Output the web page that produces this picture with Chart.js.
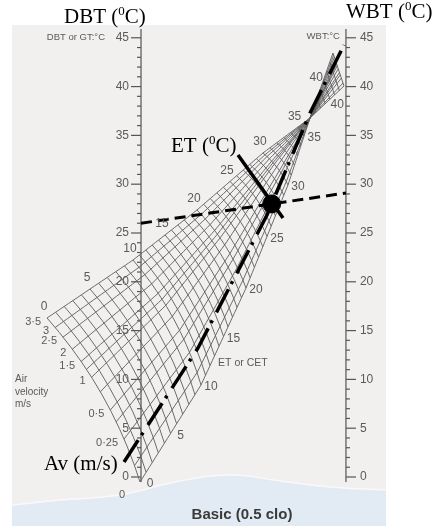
<!DOCTYPE html>
<html>
<head>
<meta charset="utf-8">
<script src="https://cdn.jsdelivr.net/npm/chart.js@4.4.0/dist/chart.umd.min.js"></script>
<style>
  html, body { margin: 0; padding: 0; background: #fff; }
  canvas { display: block; }
</style>
</head>
<body>
<canvas id="etChart" width="445" height="526"></canvas>
<script>
// DBT and WBT scales (deg C), both use the same spacing
const dbtTicks = [0, 5, 10, 15, 20, 25, 30, 35, 40, 45];
const wbtTicks = [0, 5, 10, 15, 20, 25, 30, 35, 40, 45];

// ET grid lines (every 1 deg C) and air velocity lines (m/s)
const etLines = [0,1,2,3,4,5,6,7,8,9,10,11,12,13,14,15,16,17,18,19,20,21,22,23,24,25,26,27,28,29,30,31,32,33,34,35,36];
const velocities = [0, 0.1, 0.25, 0.4, 0.5, 0.75, 1, 1.25, 1.5, 2, 2.5, 3, 3.5];
const velocityLabels = ['0', '', '0·25', '', '0·5', '', '1', '', '1·5', '2', '2·5', '3', '3·5'];
// where each velocity line sits across the fan (0 = still air edge, 1 = 3.5 m/s edge)
const velocityFrac = [0, 0.09, 0.24, 0.34, 0.41, 0.52, 0.61, 0.66, 0.71, 0.79, 0.87, 0.935, 1];

// fan edges: x 0 = DBT scale, 21 = WBT scale, y in deg C
const edgeET = [0, 10, 20, 30, 36.8];
const stillAirX = [-0.1, 6.15, 10.76, 15.06, 17.32];
const stillAirY = [-0.51, 9.43, 19.36, 29.92, 36.78];
const fastAirX = [-9.63, -0.82, 5.74, 12.5, 17.32];
const fastAirY = [16.29, 22.23, 27.36, 33.2, 36.78];

// small part of the chart above the crossing point
const upperET = [37, 38, 39, 40, 41, 42, 43, 44];
const upperLeftTip = [19.67, 43.44];
const upperRightTip = [20.8, 40.06];

// ET numbers printed along the edges
const topEdgeLabels = [0, 5, 10, 15, 20, 25, 30, 35];
const rightEdgeLabels = [0, 5, 10, 15, 20, 25, 30, 35];
const upperLabels = [40];

// worked example
const exampleDBT = 26.0;
const exampleWBT = 29.1;
const avLineX = [-1.74, 5.84, 12.91, 17.32, 20.8];
const avLineY = [1.54, 13.22, 26.84, 37.3, 44.26];
const etMarkX = [9.94, 14.55];
const etMarkY = [32.99, 26.54];

const WBT_X = 21;
const APEX_ET = edgeET[edgeET.length - 1];

function edgeAt(et, xs, ys) {
  let i = 0;
  while (i < edgeET.length - 2 && et > edgeET[i + 1]) i++;
  const t = (et - edgeET[i]) / (edgeET[i + 1] - edgeET[i]);
  return [xs[i] + t * (xs[i + 1] - xs[i]), ys[i] + t * (ys[i + 1] - ys[i])];
}

function fanPoint(et, w) {
  const r = edgeAt(et, stillAirX, stillAirY);
  const f = edgeAt(et, fastAirX, fastAirY);
  const dx = f[0] - r[0], dy = f[1] - r[1];
  const len = Math.hypot(dx, dy) || 1;
  const bulge = 0.053 * len * 4 * w * (1 - w);
  return { x: r[0] + w * dx + bulge * dy / len, y: r[1] + w * dy - bulge * dx / len };
}

function upperPoint(tip, f) {
  const a = edgeAt(APEX_ET, stillAirX, stillAirY);
  return { x: a[0] + f * (tip[0] - a[0]), y: a[1] + f * (tip[1] - a[1]) };
}

const gridStyle = {
  type: 'scatter', showLine: true, pointRadius: 0, borderColor: '#5c5c5c',
  borderWidth: 0.9, fill: false, order: 5
};
const datasets = [];

// background wave at the bottom
datasets.push({
  type: 'line', order: 10, pointRadius: 0, borderWidth: 1.5, borderColor: '#f7f9fc',
  backgroundColor: '#e2eaf4', fill: 'start', tension: 0.4,
  data: [{x:-13.22,y:-2.87},{x:-8.3,y:-2.36},{x:-2.15,y:-1.84},{x:4.0,y:-0.41},{x:9.3,y:0.21},{x:14.24,y:-0.4},{x:19.36,y:-1.02},{x:25.1,y:-1.33}]
});

// ET lines across the fan
etLines.forEach(et => {
  const pts = [];
  for (let k = 0; k <= 10; k++) pts.push(fanPoint(et, k / 10));
  datasets.push(Object.assign({}, gridStyle, { data: pts }));
});
// velocity lines along the fan
velocityFrac.forEach(w => {
  const pts = [];
  for (let et = 0; et < APEX_ET; et += 0.5) pts.push(fanPoint(et, w));
  pts.push(fanPoint(APEX_ET, w));
  datasets.push(Object.assign({}, gridStyle, { data: pts }));
});
// upper part
upperET.forEach(et => {
  const f = (et - APEX_ET) / (upperET[upperET.length - 1] - APEX_ET);
  datasets.push(Object.assign({}, gridStyle, { data: [upperPoint(upperLeftTip, f), upperPoint(upperRightTip, f)] }));
});
velocityFrac.forEach(w => {
  const end = {
    x: upperRightTip[0] + w * (upperLeftTip[0] - upperRightTip[0]),
    y: upperRightTip[1] + w * (upperLeftTip[1] - upperRightTip[1])
  };
  datasets.push(Object.assign({}, gridStyle, { data: [upperPoint(upperRightTip, 0), end] }));
});

// dashed DBT - WBT line
datasets.push({
  type: 'scatter', showLine: true, pointRadius: 0, order: 2, borderColor: '#000',
  borderWidth: 3, borderDash: [11, 6],
  data: [{ x: 0, y: exampleDBT }, { x: WBT_X, y: exampleWBT }]
});
// air velocity line (dash-dot)
datasets.push({
  type: 'scatter', showLine: true, pointRadius: 0, order: 2, borderColor: '#000',
  borderWidth: 3.5, borderDash: [26, 6, 3, 9], borderCapStyle: 'butt',
  data: avLineX.map((x, i) => ({ x, y: avLineY[i] }))
});
// ET reading line
datasets.push({
  type: 'scatter', showLine: true, pointRadius: 0, order: 1, borderColor: '#000',
  borderWidth: 3.5, data: etMarkX.map((x, i) => ({ x, y: etMarkY[i] }))
});

// the dot: where the DBT-WBT line meets the air velocity line
function crossing() {
  const slope = (exampleWBT - exampleDBT) / WBT_X;
  for (let i = 0; i < avLineX.length - 1; i++) {
    const x1 = avLineX[i], y1 = avLineY[i], x2 = avLineX[i + 1], y2 = avLineY[i + 1];
    const g1 = y1 - (exampleDBT + slope * x1), g2 = y2 - (exampleDBT + slope * x2);
    if (g1 * g2 <= 0) {
      const t = g1 / (g1 - g2);
      return { x: x1 + t * (x2 - x1), y: y1 + t * (y2 - y1) };
    }
  }
  return { x: 0, y: exampleDBT };
}
datasets.push({
  type: 'scatter', order: 0, pointRadius: 9, pointBackgroundColor: '#000',
  pointBorderColor: '#000', data: [crossing()]
});

function serifSup(ctx, x, y, before, after) {
  ctx.textAlign = 'left';
  ctx.textBaseline = 'alphabetic';
  ctx.font = '21px "Liberation Serif", "DejaVu Serif", serif';
  ctx.fillText(before, x, y);
  let w = ctx.measureText(before).width;
  ctx.font = '13px "Liberation Serif", "DejaVu Serif", serif';
  ctx.fillText('0', x + w, y - 8);
  w += ctx.measureText('0').width;
  ctx.font = '21px "Liberation Serif", "DejaVu Serif", serif';
  ctx.fillText(after, x + w, y);
}

const nomogramPlugin = {
  id: 'nomogram',
  beforeDraw(chart) {
    const { ctx, scales: { x, y } } = chart;
    ctx.save();
    ctx.fillStyle = '#ffffff';
    ctx.fillRect(0, 0, chart.width, chart.height);
    const left = x.getPixelForValue(-13.22), right = x.getPixelForValue(25.1);
    const top = y.getPixelForValue(46.31);
    ctx.fillStyle = '#f2efef';
    ctx.fillRect(left, top, right - left, chart.height - top);
    ctx.restore();
  },
  beforeDatasetsDraw(chart) {
    const { ctx, scales: { x, y } } = chart;
    ctx.save();
    ctx.strokeStyle = '#555';
    ctx.lineWidth = 1.2;
    [[0, -1], [WBT_X, 1]].forEach(([ax, side]) => {
      const px = x.getPixelForValue(ax);
      ctx.beginPath();
      ctx.moveTo(px, y.getPixelForValue(45.9));
      ctx.lineTo(px, y.getPixelForValue(-0.5));
      ctx.stroke();
      for (let t = 0; t <= 45; t++) {
        const py = y.getPixelForValue(t);
        const len = t % 5 === 0 ? 10 : 4;
        ctx.beginPath();
        ctx.moveTo(px, py);
        ctx.lineTo(px + side * len, py);
        ctx.stroke();
      }
    });
    ctx.restore();
  },
  afterDatasetsDraw(chart) {
    const { ctx, scales: { x, y } } = chart;
    const X = v => x.getPixelForValue(v), Y = v => y.getPixelForValue(v);
    ctx.save();
    ctx.fillStyle = '#5a5a5a';
    ctx.textBaseline = 'middle';
    ctx.font = '12px "Liberation Sans", Arial, sans-serif';

    ctx.textAlign = 'right';
    dbtTicks.forEach(t => ctx.fillText(String(t), X(0) - 12, Y(t)));
    ctx.textAlign = 'left';
    wbtTicks.forEach(t => ctx.fillText(String(t), X(WBT_X) + 14, Y(t)));

    ctx.font = '9.5px "Liberation Sans", Arial, sans-serif';
    ctx.textAlign = 'right';
    ctx.fillText('DBT or GT:°C', X(0) - 36, Y(45));
    ctx.fillText('WBT:°C', X(WBT_X) - 6, Y(45) - 1);

    // ET numbers on the edges of the fan
    ctx.font = '12px "Liberation Sans", Arial, sans-serif';
    ctx.textAlign = 'center';
    topEdgeLabels.forEach(et => {
      const p = fanPoint(et, 1);
      ctx.fillText(String(et), X(p.x) - 3, Y(p.y) - 11);
    });
    rightEdgeLabels.forEach(et => {
      const p = fanPoint(et, 0);
      ctx.fillText(String(et), X(p.x) + 10, Y(p.y) + 2);
    });
    upperLabels.forEach(et => {
      const f = (et - APEX_ET) / (upperET[upperET.length - 1] - APEX_ET);
      const l = upperPoint(upperLeftTip, f), r = upperPoint(upperRightTip, f);
      ctx.fillText(String(et), X(l.x) - 4, Y(l.y) - 11);
      ctx.fillText(String(et), X(r.x) + 12, Y(r.y) + 1);
    });

    // velocity numbers along the ET = 0 edge
    ctx.font = '11px "Liberation Sans", Arial, sans-serif';
    ctx.textAlign = 'right';
    velocityFrac.forEach((w, i) => {
      if (!velocityLabels[i]) return;
      const p = fanPoint(0, w);
      const extra = i === 0 ? 9 : 0;
      ctx.fillText(velocityLabels[i], X(p.x) - 6 - extra, Y(p.y) + 4 + extra);
    });
    ctx.font = '10px "Liberation Sans", Arial, sans-serif';
    ctx.textAlign = 'left';
    ctx.fillText('Air', 15, Y(10.0));
    ctx.fillText('velocity', 15, Y(8.7));
    ctx.fillText('m/s', 15, Y(7.5));
    ctx.font = '10.5px "Liberation Sans", Arial, sans-serif';
    ctx.fillText('ET or CET', X(7.9), Y(11.7));

    ctx.font = 'bold 15px "Liberation Sans", Arial, sans-serif';
    ctx.fillStyle = '#3a3a3a';
    ctx.textAlign = 'center';
    ctx.fillText('Basic (0.5 clo)', 242, Y(-3.9));

    ctx.fillStyle = '#000';
    serifSup(ctx, 64, 23, 'DBT (', 'C)');
    serifSup(ctx, 346, 18, 'WBT (', 'C)');
    serifSup(ctx, 171, 152, 'ET (', 'C)');
    ctx.textAlign = 'left';
    ctx.font = '21px "Liberation Serif", "DejaVu Serif", serif';
    ctx.fillText('Av (m/s)', 44, 470);
    ctx.restore();
  }
};

new Chart(document.getElementById('etChart'), {
  type: 'scatter',
  data: { datasets },
  options: {
    responsive: false,
    animation: false,
    events: [],
    layout: { padding: 0, autoPadding: false },
    scales: {
      x: { type: 'linear', display: false, min: -14.45, max: 31.15 },
      y: { type: 'linear', display: false, min: -5.02, max: 48.87 }
    },
    plugins: { legend: { display: false }, tooltip: { enabled: false } }
  },
  plugins: [nomogramPlugin]
});
</script>
</body>
</html>
